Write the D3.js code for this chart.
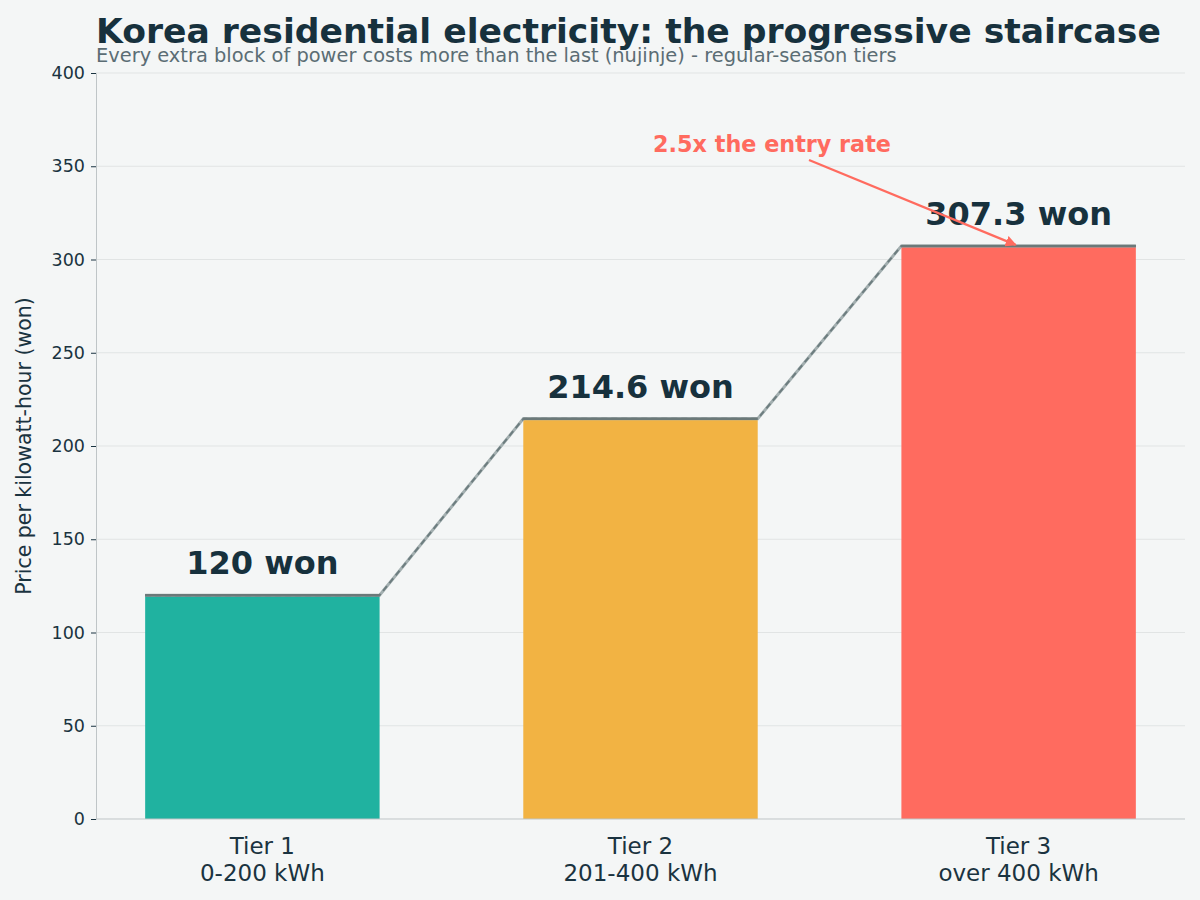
<!DOCTYPE html>
<html>
<head>
<meta charset="utf-8">
<script src="https://cdn.jsdelivr.net/npm/d3@7"></script>
<style>
  body { margin: 0; background: #f4f6f6; }
  svg text { font-family: "DejaVu Sans", sans-serif; }
</style>
</head>
<body>
<div id="chart"></div>
<script>
// data
var tierNames = ["Tier 1", "Tier 2", "Tier 3"];
var tierRanges = ["0-200 kWh", "201-400 kWh", "over 400 kWh"];
var prices = [120, 214.6, 307.3];
var priceLabels = ["120 won", "214.6 won", "307.3 won"];
var barColors = ["#20b2a0", "#f2b343", "#ff6b5f"];
var yTicks = [0, 50, 100, 150, 200, 250, 300, 350, 400];

var W = 1200, H = 900;
var margin = {left: 96, right: 15, top: 73, bottom: 81};

var svg = d3.select("#chart").append("svg")
  .attr("width", W).attr("height", H)
  .style("background", "#f4f6f6");

var x = d3.scaleBand()
  .domain(tierNames)
  .range([margin.left, W - margin.right])
  .paddingInner(0.38)
  .paddingOuter(0.13);

var y = d3.scaleLinear()
  .domain([0, 400])
  .range([H - margin.bottom, margin.top]);

// grid lines
svg.append("g").selectAll("line")
  .data(yTicks.slice(1))
  .enter().append("line")
  .attr("x1", margin.left).attr("x2", W - margin.right)
  .attr("y1", function(d) { return y(d); })
  .attr("y2", function(d) { return y(d); })
  .attr("stroke", "#e1e4e4").attr("stroke-width", 1);

// bars
svg.append("g").selectAll("rect")
  .data(prices)
  .enter().append("rect")
  .attr("x", function(d, i) { return x(tierNames[i]); })
  .attr("y", function(d) { return y(d); })
  .attr("width", x.bandwidth())
  .attr("height", function(d) { return y(0) - y(d); })
  .attr("fill", function(d, i) { return barColors[i]; });

// staircase line over the bar tops
var stairPts = [];
prices.forEach(function(d, i) {
  stairPts.push([x(tierNames[i]), y(d)]);
  stairPts.push([x(tierNames[i]) + x.bandwidth(), y(d)]);
});
var line = d3.line();
svg.append("path")
  .attr("d", line(stairPts))
  .attr("fill", "none")
  .attr("stroke", "#a3afb0").attr("stroke-width", 3);
svg.append("path")
  .attr("d", line(stairPts))
  .attr("fill", "none")
  .attr("stroke", "#5f7073").attr("stroke-width", 2)
  .attr("stroke-dasharray", "6,4").attr("opacity", 0.8);
// solid tops
svg.append("g").selectAll("line")
  .data(prices)
  .enter().append("line")
  .attr("x1", function(d, i) { return x(tierNames[i]); })
  .attr("x2", function(d, i) { return x(tierNames[i]) + x.bandwidth(); })
  .attr("y1", function(d) { return y(d); })
  .attr("y2", function(d) { return y(d); })
  .attr("stroke", "#6b7979").attr("stroke-width", 2.5);

// value labels
svg.append("g").selectAll("text")
  .data(prices)
  .enter().append("text")
  .attr("x", function(d, i) { return x(tierNames[i]) + x.bandwidth() / 2; })
  .attr("y", function(d) { return y(d) - 21; })
  .attr("text-anchor", "middle")
  .attr("font-size", 32).attr("font-weight", "bold")
  .attr("fill", "#17313d")
  .text(function(d, i) { return priceLabels[i]; });

// axes
var yAxis = svg.append("g")
  .attr("transform", "translate(" + margin.left + ",0)")
  .call(d3.axisLeft(y).tickValues(yTicks).tickSize(5).tickPadding(6));
yAxis.select(".domain").attr("stroke", "#bfc5c7");
yAxis.selectAll(".tick line").attr("stroke", "#1a3340");
yAxis.selectAll("text").attr("font-size", 17.5).attr("fill", "#1a3340")
  .style("font-family", "DejaVu Sans");

svg.append("line")
  .attr("x1", margin.left).attr("x2", W - margin.right)
  .attr("y1", y(0)).attr("y2", y(0))
  .attr("stroke", "#bfc5c7");

var xLab = svg.append("g").selectAll("text")
  .data(tierNames)
  .enter().append("text")
  .attr("x", function(d) { return x(d) + x.bandwidth() / 2; })
  .attr("y", y(0) + 35)
  .attr("text-anchor", "middle")
  .attr("font-size", 23).attr("fill", "#1a3340");
xLab.append("tspan").text(function(d) { return d; });
xLab.append("tspan")
  .attr("x", function(d) { return x(d) + x.bandwidth() / 2; })
  .attr("dy", 27)
  .text(function(d, i) { return tierRanges[i]; });

// y label
svg.append("text")
  .attr("transform", "translate(31," + ((y(0) + y(400)) / 2) + ") rotate(-90)")
  .attr("text-anchor", "middle")
  .attr("font-size", 20.5).attr("fill", "#1a3340")
  .text("Price per kilowatt-hour (won)");

// title and subtitle
svg.append("text")
  .attr("x", margin.left).attr("y", 43)
  .attr("font-size", 34.6).attr("font-weight", "bold").attr("fill", "#17313d")
  .text("Korea residential electricity: the progressive staircase");
svg.append("text")
  .attr("x", margin.left).attr("y", 62)
  .attr("font-size", 19.4).attr("fill", "#5b6d74")
  .text("Every extra block of power costs more than the last (nujinje) - regular-season tiers");

// annotation arrow
svg.append("defs").append("marker")
  .attr("id", "arrowhead")
  .attr("viewBox", "0 0 10 10").attr("refX", 9).attr("refY", 5)
  .attr("markerWidth", 5).attr("markerHeight", 5)
  .attr("orient", "auto")
  .append("path").attr("d", "M0,0 L10,5 L0,10 z").attr("fill", "#ff6b5f");

var tipX = x(tierNames[2]) + x.bandwidth() / 2 - 3;
svg.append("line")
  .attr("x1", 809).attr("y1", 160)
  .attr("x2", tipX).attr("y2", y(prices[2]) - 1)
  .attr("stroke", "#ff6b5f").attr("stroke-width", 2.2)
  .attr("marker-end", "url(#arrowhead)");
svg.append("text")
  .attr("x", 772).attr("y", 152)
  .attr("text-anchor", "middle")
  .attr("font-size", 22.3).attr("font-weight", "bold").attr("fill", "#ff6b5f")
  .text("2.5x the entry rate");
</script>
</body>
</html>
